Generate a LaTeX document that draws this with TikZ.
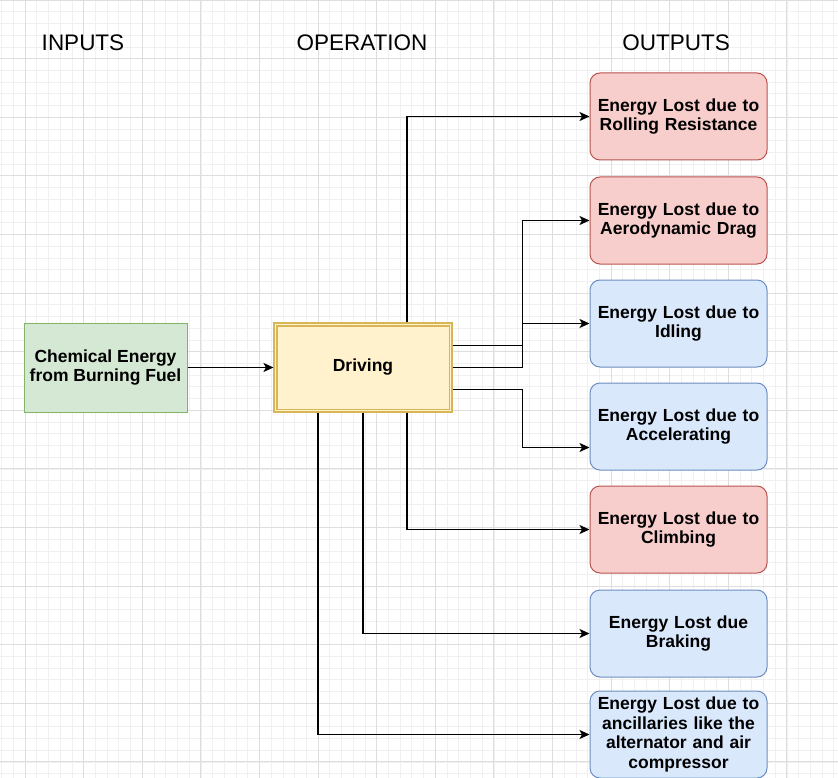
\documentclass[tikz,border=0pt]{standalone}
\usepackage{fontspec}
\setmainfont{Liberation Sans}
\usetikzlibrary{arrows.meta}
\definecolor{gfill}{HTML}{D5E8D4}\definecolor{gline}{HTML}{82B366}
\definecolor{yfill}{HTML}{FFF2CC}\definecolor{yline}{HTML}{D6B656}
\definecolor{rfill}{HTML}{F8CECC}\definecolor{rline}{HTML}{B85450}
\definecolor{bfill}{HTML}{DAE8FC}\definecolor{bline}{HTML}{6C8EBF}
\definecolor{minorg}{HTML}{F0F0F0}\definecolor{majorg}{HTML}{DEDEDE}
\tikzset{
  box/.style={rectangle, minimum width=177pt, minimum height=87pt, rounded corners=10pt,
    line width=1pt, align=center, text width=172pt, inner sep=0pt,
    font=\fontsize{17.5}{19.5}\selectfont\bfseries},
  redbox/.style={box, fill=rfill, draw=rline},
  bluebox/.style={box, fill=bfill, draw=bline},
  header/.style={font=\fontsize{22.5}{26}\selectfont, inner sep=0pt},
  conn/.style={line width=1.6pt, -{Stealth[length=10pt,width=9pt,inset=2.5pt]}},
}
\begin{document}
\begin{tikzpicture}[x=1pt,y=-1pt]
\useasboundingbox (0,0) rectangle (838,778);
\fill[white] (0,0) rectangle (838,778);
\begin{scope}
\clip (0,0) rectangle (838,778);
\foreach \i in {-3,...,72} {
  \draw[minorg, line width=0.6pt] ({25+\i*11.72},0) -- ({25+\i*11.72},778);
}
\foreach \i in {0,...,67} {
  \draw[minorg, line width=0.6pt] (0,{\i*11.72}) -- (838,{\i*11.72});
}
\foreach \i in {-1,...,14} {
  \draw[majorg, line width=0.7pt] ({25+\i*58.6},0) -- ({25+\i*58.6},778);
}
\foreach \i in {0,...,14} {
  \draw[majorg, line width=0.7pt] (0,{\i*58.6}) -- (838,{\i*58.6});
}
\end{scope}

\node[header] (hin) at (83,43) {INPUTS};
\node[header] (hop) at (362,43) {OPERATION};
\node[header] (hout) at (676,43) {OUTPUTS};

\node[rectangle, fill=gfill, draw=gline, line width=1pt, minimum width=163pt, minimum height=89pt,
  align=center, inner sep=0pt, font=\fontsize{17.5}{19.5}\selectfont\bfseries] (chem) at (105.5,367.5)
  {Chemical Energy\\from Burning Fuel};
\node[rectangle, fill=yfill, draw=yline, line width=1.1pt,
  minimum width=178pt, minimum height=89pt, inner sep=0pt,
  font=\fontsize{17.5}{19.5}\selectfont\bfseries] (drv) at (363,367.5) {Driving};
\draw[yline, line width=1.1pt] ([shift={(3.5pt,3.5pt)}]drv.south west) rectangle ([shift={(-3.5pt,-3.5pt)}]drv.north east);

\node[redbox] (roll) at (678.5,116.5) {Energy Lost due to\\Rolling Resistance};
\node[redbox] (aero) at (678.5,220.5) {Energy Lost due to\\Aerodynamic Drag};
\node[bluebox] (idl) at (678.5,323.5) {Energy Lost due to\\Idling};
\node[bluebox] (acc) at (678.5,426.5) {Energy Lost due to\\Accelerating};
\node[redbox] (clm) at (678.5,529.5) {Energy Lost due to\\Climbing};
\node[bluebox] (brk) at (678.5,633.5) {Energy Lost due\\Braking};
\node[bluebox] (anc) at (678.5,734.5) {Energy Lost due to\\ancillaries like the\\alternator and air\\compressor};

\draw[conn] (chem.east) -- (drv.west);
\draw[conn] ([xshift=44pt]drv.north) |- (roll.west);
\draw[conn] ([yshift=22pt]drv.east) -- ++(70,0) |- (aero.west);
\draw[conn] (drv.east) -- ++(70,0) |- (idl.west);
\draw[conn] ([yshift=-22pt]drv.east) -- ++(70,0) |- ([yshift=-21pt]acc.west);
\draw[conn] ([xshift=44pt]drv.south) |- (clm.west);
\draw[conn] (drv.south) |- (brk.west);
\draw[conn] ([xshift=-45pt]drv.south) |- (anc.west);
\end{tikzpicture}
\end{document}
